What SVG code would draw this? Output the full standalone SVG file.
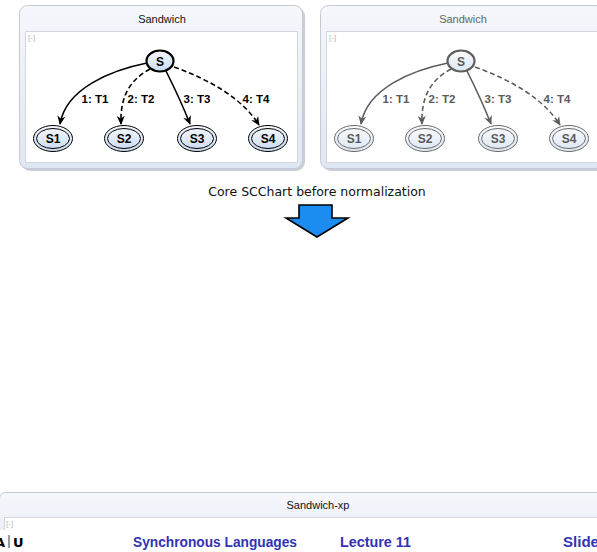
<svg xmlns="http://www.w3.org/2000/svg" width="597" height="552" viewBox="0 0 597 552">
  <defs>
    <linearGradient id="boxFill" x1="0" y1="0" x2="0" y2="1">
      <stop offset="0" stop-color="#f6f7fb"/>
      <stop offset="1" stop-color="#dfe7f3"/>
    </linearGradient>
    <linearGradient id="stateFill" x1="0" y1="0" x2="0" y2="1">
      <stop offset="0" stop-color="#f7f9fd"/>
      <stop offset="1" stop-color="#c9d9ef"/>
    </linearGradient>
    <linearGradient id="stateFillDim" x1="0" y1="0" x2="0" y2="1">
      <stop offset="0" stop-color="#fafbfd"/>
      <stop offset="1" stop-color="#dde6f2"/>
    </linearGradient>
    <marker id="arr" viewBox="0 0 10 10" refX="9" refY="5" markerWidth="9" markerHeight="9" markerUnits="userSpaceOnUse" orient="auto">
      <path d="M0,0.5 L10,5 L0,9.5 L3,5 Z" fill="#000"/>
    </marker>
    <marker id="arrDim" viewBox="0 0 10 10" refX="9" refY="5" markerWidth="9" markerHeight="9" markerUnits="userSpaceOnUse" orient="auto">
      <path d="M0,0.5 L10,5 L0,9.5 L3,5 Z" fill="#5e5e5e"/>
    </marker>
  </defs>
  <style>
    .outer { fill: url(#boxFill); stroke: #c4cad4; stroke-width: 1; }
    .shadow { fill: #c9ced8; }
    .inner { fill: #ffffff; stroke: #d4d8de; stroke-width: 1; }
    .title { font-family: "Liberation Sans", Arial, sans-serif; font-size: 11px; fill: #111; text-anchor: middle; }
    .collapse { font-family: "Liberation Sans", Arial, sans-serif; font-size: 8px; fill: #b8b8b8; }
    .init { fill: url(#stateFill); stroke: #000; stroke-width: 2.2; }
    .fin { fill: url(#stateFill); stroke: #000; stroke-width: 1; }
    .finIn { fill: none; stroke: #000; stroke-width: 1; }
    .lbl { font-family: "Liberation Sans", Arial, sans-serif; font-size: 12px; font-weight: bold; fill: #000; text-anchor: middle; }
    .tlbl { font-family: "Liberation Sans", Arial, sans-serif; font-size: 11.5px; font-weight: bold; fill: #000; text-anchor: middle; }
    .edge { fill: none; stroke: #000; stroke-width: 1.6; marker-end: url(#arr); }
    .dash { stroke-dasharray: 5 3; }
    .dim .title { fill: #666; }
    .dim .init { fill: url(#stateFillDim); stroke: #5e5e5e; }
    .dim .fin { fill: url(#stateFillDim); stroke: #6a6a6a; }
    .dim .finIn { stroke: #6a6a6a; }
    .dim .lbl, .dim .tlbl { fill: #5a5a5a; }
    .dim .edge { stroke: #5e5e5e; marker-end: url(#arrDim); }
    .caption { font-family: "DejaVu Sans", "Liberation Sans", sans-serif; font-size: 12.5px; fill: #111; text-anchor: middle; }
    .foot { font-family: "Liberation Sans", Arial, sans-serif; font-size: 14px; font-weight: bold; fill: #3333b3; }
  </style>

  <rect width="597" height="552" fill="#ffffff"/>

  <!-- Chart: Sandwich (active) -->
  <g id="sandwich">
    <rect class="shadow" x="21" y="7" width="284" height="164" rx="9"/>
    <rect class="outer" x="19.5" y="5.5" width="283" height="163" rx="8"/>
    <text class="title" x="162" y="23">Sandwich</text>
    <rect class="inner" x="25.5" y="31.5" width="272" height="131"/>
    <text class="collapse" x="28" y="40">[-]</text>

    <g id="connectors">
      <path class="edge" d="M147,63 C112,70 66,88 60,124"/>
      <path class="edge dash" d="M150,69 C130,80 120,96 121,124"/>
      <path class="edge" d="M166,71 C175,89 183,106 190,124"/>
      <path class="edge dash" d="M174,67 C210,80 242,98 259,125"/>
      <text class="tlbl" x="95" y="103">1: T1</text>
      <text class="tlbl" x="141" y="103">2: T2</text>
      <text class="tlbl" x="197" y="103">3: T3</text>
      <text class="tlbl" x="256" y="103">4: T4</text>
    </g>

    <g id="S">
      <ellipse class="init" cx="160" cy="61" rx="13.5" ry="10.5"/>
      <text class="lbl" x="160" y="65.5">S</text>
    </g>
    <g id="S1">
      <ellipse class="fin" cx="53" cy="138.5" rx="19.5" ry="13"/>
      <ellipse class="finIn" cx="53" cy="138.5" rx="16.5" ry="10"/>
      <text class="lbl" x="53" y="143">S1</text>
    </g>
    <g id="S2">
      <ellipse class="fin" cx="124" cy="138.5" rx="19.5" ry="13"/>
      <ellipse class="finIn" cx="124" cy="138.5" rx="16.5" ry="10"/>
      <text class="lbl" x="124" y="143">S2</text>
    </g>
    <g id="S3">
      <ellipse class="fin" cx="197" cy="138.5" rx="19.5" ry="13"/>
      <ellipse class="finIn" cx="197" cy="138.5" rx="16.5" ry="10"/>
      <text class="lbl" x="197" y="143">S3</text>
    </g>
    <g id="S4">
      <ellipse class="fin" cx="268" cy="138.5" rx="19.5" ry="13"/>
      <ellipse class="finIn" cx="268" cy="138.5" rx="16.5" ry="10"/>
      <text class="lbl" x="268" y="143">S4</text>
    </g>
  </g>

  <!-- Chart: Sandwich (greyed copy) -->
  <g id="sandwich-dim" class="dim" transform="translate(301,0)">
    <rect class="shadow" x="21" y="7" width="284" height="164" rx="9"/>
    <rect class="outer" x="19.5" y="5.5" width="283" height="163" rx="8"/>
    <text class="title" x="162" y="23">Sandwich</text>
    <rect class="inner" x="25.5" y="31.5" width="272" height="131"/>
    <text class="collapse" x="28" y="40">[-]</text>

    <g id="connectors-dim">
      <path class="edge" d="M147,63 C112,70 66,88 60,124"/>
      <path class="edge dash" d="M150,69 C130,80 120,96 121,124"/>
      <path class="edge" d="M166,71 C175,89 183,106 190,124"/>
      <path class="edge dash" d="M174,67 C210,80 242,98 259,125"/>
      <text class="tlbl" x="95" y="103">1: T1</text>
      <text class="tlbl" x="141" y="103">2: T2</text>
      <text class="tlbl" x="197" y="103">3: T3</text>
      <text class="tlbl" x="256" y="103">4: T4</text>
    </g>

    <g id="S-dim">
      <ellipse class="init" cx="160" cy="61" rx="13.5" ry="10.5"/>
      <text class="lbl" x="160" y="65.5">S</text>
    </g>
    <g id="S1-dim">
      <ellipse class="fin" cx="53" cy="138.5" rx="19.5" ry="13"/>
      <ellipse class="finIn" cx="53" cy="138.5" rx="16.5" ry="10"/>
      <text class="lbl" x="53" y="143">S1</text>
    </g>
    <g id="S2-dim">
      <ellipse class="fin" cx="124" cy="138.5" rx="19.5" ry="13"/>
      <ellipse class="finIn" cx="124" cy="138.5" rx="16.5" ry="10"/>
      <text class="lbl" x="124" y="143">S2</text>
    </g>
    <g id="S3-dim">
      <ellipse class="fin" cx="197" cy="138.5" rx="19.5" ry="13"/>
      <ellipse class="finIn" cx="197" cy="138.5" rx="16.5" ry="10"/>
      <text class="lbl" x="197" y="143">S3</text>
    </g>
    <g id="S4-dim">
      <ellipse class="fin" cx="268" cy="138.5" rx="19.5" ry="13"/>
      <ellipse class="finIn" cx="268" cy="138.5" rx="16.5" ry="10"/>
      <text class="lbl" x="268" y="143">S4</text>
    </g>
  </g>

  <!-- Caption and transformation arrow -->
  <text class="caption" x="317" y="196">Core SCChart before normalization</text>
  <path d="M299,205 L332,205 L332,218 L348,218 L317,237 L286,218 L299,218 Z" fill="#1c8cf0" stroke="#000" stroke-width="1.6" stroke-linejoin="miter"/>

  <!-- Chart: Sandwich-xp (cut off at the bottom) -->
  <g id="sandwich-xp">
    <rect class="outer" x="-0.5" y="492.5" width="610" height="80" rx="6"/>
    <text class="title" x="318" y="509">Sandwich-xp</text>
    <rect class="inner" x="4.5" y="517.5" width="600" height="60"/>
    <text class="collapse" x="6" y="526">[-]</text>
  </g>

  <!-- Footer bar -->
  <rect x="0" y="530" width="597" height="22" fill="#ffffff"/>
  <text x="-5" y="547" font-family="DejaVu Sans, sans-serif" font-size="13" font-weight="bold" fill="#000">A</text>
  <line x1="9" y1="535" x2="9" y2="548" stroke="#000" stroke-width="0.8"/>
  <text x="13" y="547" font-family="DejaVu Sans, sans-serif" font-size="13" font-weight="bold" fill="#000">U</text>
  <text class="foot" x="133" y="547" textLength="164" lengthAdjust="spacingAndGlyphs">Synchronous Languages</text>
  <text class="foot" x="340" y="547" textLength="71" lengthAdjust="spacingAndGlyphs">Lecture 11</text>
  <text class="foot" x="563" y="547" textLength="36" lengthAdjust="spacingAndGlyphs">Slide</text>
</svg>
